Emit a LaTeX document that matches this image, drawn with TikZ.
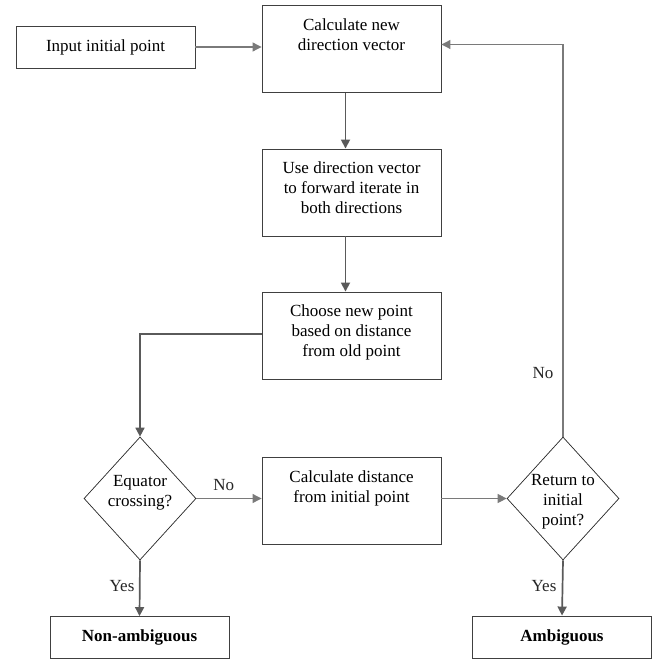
\documentclass[tikz,border=0pt]{standalone}
\usepackage{fontspec}
\setmainfont{Liberation Serif}
\usetikzlibrary{arrows.meta,shapes.geometric}
\definecolor{linedark}{HTML}{5A5A5A}
\definecolor{linelight}{HTML}{7A7A7A}
\definecolor{boxline}{HTML}{404040}
\begin{document}
\begin{tikzpicture}[x=1pt,y=-1pt,
  font=\fontsize{17}{20}\selectfont,
  box/.style={draw=boxline,line width=0.9pt,inner sep=0pt,minimum width=179pt},
  tallbox/.style={box,minimum height=87pt},
  flatbox/.style={box,minimum height=42pt},
  dia/.style={diamond,draw=black!85,line width=0.7pt,inner sep=0pt,minimum width=112pt,minimum height=123pt},
  txt/.style={inner sep=0pt,align=center},
  thick arrow/.style={draw=linedark,line width=1.7pt,-{Triangle[length=9pt,width=9pt]}},
  thin arrow/.style={draw=linelight,line width=1.1pt,-{Triangle[length=9pt,width=9pt]}},
  lab/.style={inner sep=0pt,text=black!85}
]
\useasboundingbox[fill=white] (0,0) rectangle (657,660);

% nodes
\node[flatbox] (input) at (105.5,47) {Input initial point};
\node[tallbox] (calc) at (351.5,49) {};
\node[txt,anchor=north] (calct) at ([yshift=-13pt]calc.north) {Calculate new\\direction vector};
\node[tallbox] (use) at (351.5,192.5) {};
\node[txt,anchor=north] (uset) at ([yshift=-13pt]use.north) {Use direction vector\\to forward iterate in\\both directions};
\node[tallbox] (choose) at (351.5,335.5) {};
\node[txt,anchor=north] (chooset) at ([yshift=-13pt]choose.north) {Choose new point\\based on distance\\from old point};
\node[tallbox] (dist) at (351.5,501) {};
\node[txt,anchor=north] (distt) at ([yshift=-13pt]dist.north) {Calculate distance\\from initial point};
\node[dia] (eq) at (140,498.5) {};
\node[txt] (eqt) at (140,493) {Equator\\crossing?};
\node[dia] (ret) at (563,498.5) {};
\node[txt] (rett) at (563,502) {Return to\\initial\\point?};
\node[flatbox] (nonamb) at (139.5,637.5) {\bfseries Non-ambiguous};
\node[flatbox] (amb) at (562,637) {\bfseries Ambiguous};

% connectors
\draw[thin arrow] (input.east) -- (input.east -| calc.west);
\draw[thick arrow] ([xshift=-6pt]calc.south) -- ([xshift=-6pt]use.north);
\draw[thick arrow] ([xshift=-6pt]use.south) -- ([xshift=-6pt]choose.north);
\draw[thick arrow] ([yshift=1.5pt]choose.west) -| (eq.north);
\draw[thin arrow] (eq.east) -- (eq.east -| dist.west)
  node[lab,pos=0.42,above=7pt] (no1) {No};
\draw[thin arrow] (dist.east |- ret.west) -- (ret.west);
\draw[thin arrow] (ret.north) |- ([yshift=4.5pt]calc.east);
\draw[thick arrow] (eq.south) -- (nonamb.north);
\draw[thick arrow] (ret.south) -- (amb.north);

% labels
\node[lab] (no2) at (543,373) {No};
\node[lab] (yes1) at (122,586) {Yes};
\node[lab] (yes2) at (544,586) {Yes};
\end{tikzpicture}
\end{document}
